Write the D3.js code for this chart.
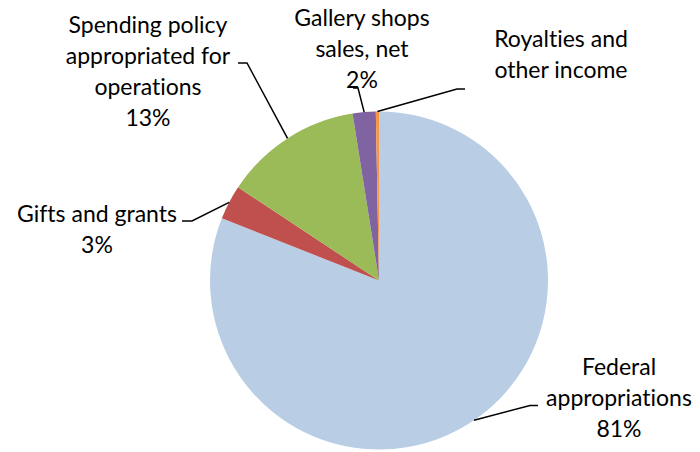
<!DOCTYPE html>
<html>
<head>
<meta charset="utf-8">
<script src="https://cdn.jsdelivr.net/npm/d3@7"></script>
<style>
  body { margin: 0; background: #fff; }
  svg { display: block; }
  text { font-variant-ligatures: none; }
</style>
</head>
<body>
<svg id="chart" width="700" height="452"></svg>
<script>
// data (shares in %)
const categories = [
  'Federal appropriations',
  'Gifts and grants',
  'Spending policy appropriated for operations',
  'Gallery shops sales, net',
  'Royalties and other income'
];
const values = [81.0, 3.3, 13.2, 2.2, 0.3];
const labelLines = [
  ['Federal', 'appropriations', '81%'],
  ['Gifts and grants', '3%'],
  ['Spending policy', 'appropriated for', 'operations', '13%'],
  ['Gallery shops', 'sales, net', '2%'],
  ['Royalties and', 'other income']
];
const colors = ['#B9CDE5', '#C0504D', '#9BBB59', '#8064A2', '#F79646'];

// layout of the labels: text centre, first baseline, leader elbow and end
const labelLayout = [
  { x: 619, y: 375, elbow: [530, 405.5], end: [538, 405.5] },
  { x: 97, y: 222, elbow: [192, 221], end: [182, 221] },
  { x: 148, y: 33, elbow: [247, 63], end: [238, 63] },
  { x: 362, y: 26, elbow: [358, 88], end: [353, 88] },
  { x: 561, y: 47, elbow: [457, 89], end: [465, 89] }
];

const cx = 379, cy = 280.5, radius = 169;
const lineGap = 31;

const svg = d3.select('#chart');
const g = svg.append('g').attr('transform', `translate(${cx},${cy})`);

const pie = d3.pie().sort(null).value((d) => d);
const arcs = pie(values);
const arc = d3.arc().innerRadius(0).outerRadius(radius);

g.selectAll('path.slice')
  .data(arcs)
  .enter()
  .append('path')
  .attr('class', 'slice')
  .attr('d', arc)
  .attr('fill', (d, i) => colors[i]);

// leader lines from the middle of each slice's edge
const edgePoint = (d) => {
  const a = (d.startAngle + d.endAngle) / 2;
  return [cx + radius * Math.sin(a), cy - radius * Math.cos(a)];
};

svg.selectAll('polyline.leader')
  .data(arcs)
  .enter()
  .append('polyline')
  .attr('class', 'leader')
  .attr('points', (d, i) => {
    const p = edgePoint(d);
    const l = labelLayout[i];
    return [p, l.elbow, l.end].map((q) => q.join(',')).join(' ');
  })
  .attr('fill', 'none')
  .attr('stroke', '#000')
  .attr('stroke-width', 1.5);

const labels = svg.selectAll('text.label')
  .data(labelLines)
  .enter()
  .append('text')
  .attr('class', 'label')
  .attr('text-anchor', 'middle')
  .attr('font-family', 'Lato, sans-serif')
  .attr('font-size', 23)
  .attr('fill', '#000');

labels.selectAll('tspan')
  .data((d, i) => d.map((t) => ({ t, i })))
  .enter()
  .append('tspan')
  .attr('x', (d) => labelLayout[d.i].x)
  .attr('y', (d, j) => labelLayout[d.i].y + j * lineGap)
  .text((d) => d.t);
</script>
</body>
</html>
